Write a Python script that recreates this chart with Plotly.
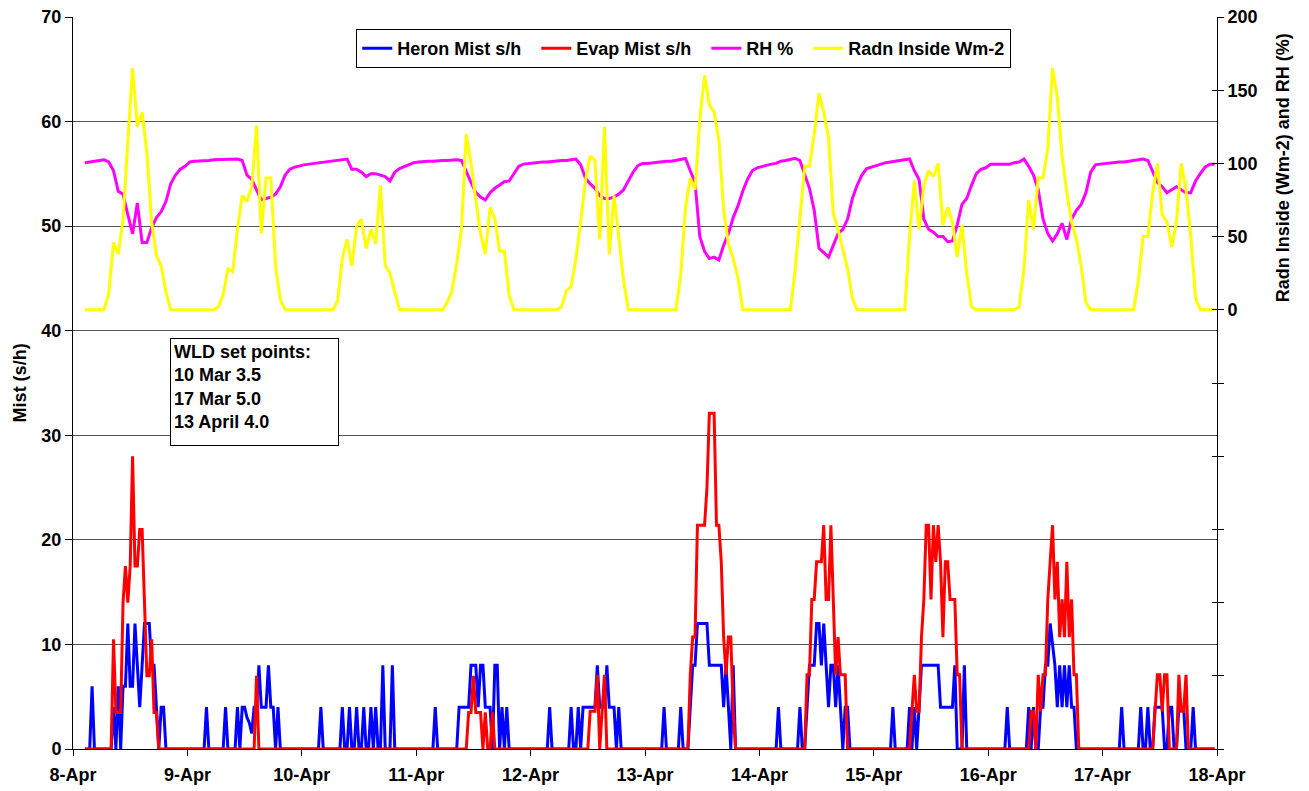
import pandas as pd
import plotly.graph_objects as go

# ---------------- Mist data (30-min intervals, s/h) ----------------
N = None
heron_d0 = [N, N, N, N, N, 0, 0, 0, 6, 0, 0, 0,  0, 0, 0, 0, 0, 4, 0, 6, 0, 6, 6, 12,
            6, 6, 12, 8, 4, 8, 12, 12, 12, 8, 8, 4,  0, 4, 4, 0, 0, 0, 0, 0, 0, 0, 0, 0]
heron_d1 = [0, 0, 0, 0, 0, 0, 0, 0, 4, 0, 0, 0,  0, 0, 0, 0, 4, 0, 0, 0, 0, 4, 0, 4,
            4, 3, 2.5, 1.5, 4, 4, 8, 4, 4, 4, 8, 4,  4, 0, 4, 0, 0, 0, 0, 0, 0, 0, 0, 0]
heron_d2 = [0, 0, 0, 0, 0, 0, 0, 0, 4, 0, 0, 0,  0, 0, 0, 0, 0, 4, 0, 0, 4, 0, 0, 4,
            0, 0, 4, 0, 0, 4, 0, 4, 0, 0, 8, 0,  0, 0, 8, 0, 0, 0, 0, 0, 0, 0, 0, 0]
heron_d3 = [0, 0, 0, 0, 0, 0, 0, 0, 4, 0, 0, 0,  0, 0, 0, 0, 0, 0, 4, 4, 4, 4, 4, 8,
            8, 8, 4, 8, 8, 4, 4, 4, 0, 8, 8, 0,  4, 0, 4, 0, 0, 0, 0, 0, 0, 0, 0, 0]
heron_d4 = [0, 0, 0, 0, 0, 0, 0, 0, 4, 0, 0, 0,  0, 0, 0, 0, 0, 4, 0, 0, 4, 0, 4, 4,
            4, 4, 4, 4, 8, 4, 4, 4, 8, 4, 4, 4,  0, 4, 0, 0, 0, 0, 0, 0, 0, 0, 0, 0]
heron_d5 = [0, 0, 0, 0, 0, 0, 0, 0, 4, 0, 0, 0,  0, 0, 0, 4, 0, 0, 0, 4, 8, 8, 12, 12,
            12, 12, 12, 8, 8, 8, 8, 8, 8, 4, 8, 4,  0, 8, 0, 0, 0, 0, 0, 0, 0, 0, 0, 0]
heron_d6 = [0, 0, 0, 0, 0, 0, 0, 0, 4, 0, 0, 0,  0, 0, 0, 0, 0, 4, 0, 0, 4, 8, 8, 8,
            12, 12, 8, 12, 8, 4, 8, 8, 4, 8, 4, 0,  4, 4, 0, 0, 0, 0, 0, 0, 0, 0, 0, 0]
heron_d7 = [0, 0, 0, 0, 0, 0, 0, 0, 4, 0, 0, 0,  0, 0, 0, 4, 0, 4, 0, 4, 8, 8, 8, 8,
            8, 8, 8, 8, 4, 4, 4, 4, 4, 4, 8, 0,  0, 0, 8, 0, 0, 0, 0, 0, 0, 0, 0, 0]
heron_d8 = [0, 0, 0, 0, 0, 0, 0, 0, 4, 0, 0, 0,  0, 0, 0, 0, 0, 4, 0, 4, 0, 0, 4, 4,
            8, 8, 12, 10, 8, 4, 8, 4, 8, 4, 8, 4,  4, 0, 0, 0, 0, 0, 0, 0, 0, 0, 0, 0]
heron_d9 = [0, 0, 0, 0, 0, 0, 0, 0, 4, 0, 0, 0,  0, 0, 0, 0, 4, 0, 0, 4, 0, 0, 4, 4,
            4, 4, 0, 0, 4, 4, 0, 0, 4, 4, 4, 0,  0, 0, 4, 0, 0, 0, 0, 0, 0, 0, 0, 0]

evap_d0 = [N, N, N, N, N, 0, 0, 0, 0, 0, 0, 0,  0, 0, 0, 0, 0, 10.5, 3.5, 3.5, 3.5, 14, 17.5, 14,
           17.5, 28, 17.5, 17.5, 21, 21, 14, 7, 7, 10.5, 3.5, 3.5,  0, 0, 0, 0, 0, 0, 0, 0, 0, 0, 0, 0]
evap_d1 = [0, 0, 0, 0, 0, 0, 0, 0, 0, 0, 0, 0,  0, 0, 0, 0, 0, 0, 0, 0, 0, 0, 0, 0,
           0, 0, 0, 0, 0, 7, 0, 0, 0, 0, 0, 0,  0, 0, 0, 0, 0, 0, 0, 0, 0, 0, 0, 0]
evap_d2 = [0, 0, 0, 0, 0, 0, 0, 0, 0, 0, 0, 0,  0, 0, 0, 0, 0, 0, 0, 0, 0, 0, 0, 0,
           0, 0, 0, 0, 0, 0, 0, 0, 0, 0, 0, 0,  0, 0, 0, 0, 0, 0, 0, 0, 0, 0, 0, 0]
evap_d3 = [0, 0, 0, 0, 0, 0, 0, 0, 0, 0, 0, 0,  0, 0, 0, 0, 0, 0, 0, 0, 0, 0, 3.5, 3.5,
           7, 3.5, 3.5, 3.5, 0, 3.5, 0, 0, 3.5, 0, 0, 0,  0, 0, 0, 0, 0, 0, 0, 0, 0, 0, 0, 0]
evap_d4 = [0, 0, 0, 0, 0, 0, 0, 0, 0, 0, 0, 0,  0, 0, 0, 0, 0, 0, 0, 0, 0, 0, 0, 0,
           0, 3.6, 3.6, 3.6, 7.1, 0, 3.6, 7.1, 0, 0, 0, 0,  0, 0, 0, 0, 0, 0, 0, 0, 0, 0, 0, 0]
evap_d5 = [0, 0, 0, 0, 0, 0, 0, 0, 0, 0, 0, 0,  0, 0, 0, 0, 0, 0, 0, 7.1, 10.7, 10.7, 21.4, 21.4,
           21.4, 21.4, 25, 32.1, 32.1, 32.1, 21.4, 21.4, 17.9, 10.7, 7.1, 10.7,
           10.7, 3.6, 0, 0, 0, 0, 0, 0, 0, 0, 0, 0]
evap_d6 = [0, 0, 0, 0, 0, 0, 0, 0, 0, 0, 0, 0,  0, 0, 0, 0, 0, 0, 0, 0, 7.1, 7.1, 14.3, 14.3,
           17.9, 17.9, 17.9, 21.4, 14.3, 14.3, 21.4, 14.3, 7.1, 10.7, 7.1, 7.1,
           7.1, 0, 0, 0, 0, 0, 0, 0, 0, 0, 0, 0]
evap_d7 = [0, 0, 0, 0, 0, 0, 0, 0, 0, 0, 0, 0,  0, 0, 0, 0, 3.6, 7.1, 3.6, 3.6, 10.7, 14.3, 21.4, 21.4,
           14.3, 21.4, 17.9, 21.4, 17.9, 10.7, 17.9, 17.9, 14.3, 14.3, 14.3, 7.1,
           7.1, 0, 0, 0, 0, 0, 0, 0, 0, 0, 0, 0]
evap_d8 = [0, 0, 0, 0, 0, 0, 0, 0, 0, 0, 0, 0,  0, 0, 0, 0, 0, 0, 3.6, 3.6, 0, 7.1, 3.6, 7.1,
           7.1, 14.3, 17.9, 21.4, 14.3, 17.9, 10.7, 14.3, 10.7, 17.9, 10.7, 14.3,
           7.1, 7.1, 0, 0, 0, 0, 0, 0, 0, 0, 0, 0]
evap_d9 = [0, 0, 0, 0, 0, 0, 0, 0, 0, 0, 0, 0,  0, 0, 0, 0, 0, 0, 0, 0, 0, 0, 3.6, 7.1,
           7.1, 3.6, 7.1, 7.1, 0, 0, 0, 0, 7.1, 3.6, 3.6, 7.1,  0, 0, 0, 0, 0, 0, 0, 0, 0, 0, 0, 0]

# ---------------- Climate data (hourly from 8-Apr 02:30) ----------------
rh_pct = [100.5, 101, 101.5, 102.5, 102.5, 101, 95, 81, 79, 65,
          52, 73, 46, 46, 56, 63, 67, 74, 86, 92,
          96, 98, 101, 101.5, 101.5, 102, 102, 102.5, 102.5, 103,
          103, 103, 103, 102, 92, 89, 82, 75, 76, 77,
          79, 84, 92, 96, 97.5, 98.5, 99, 99.5, 100, 100.5,
          101, 101.5, 102, 102.5, 103, 103, 96, 96, 94, 91,
          93, 93, 92, 91, 88, 94, 96.5, 98, 99.5, 100.5,
          101, 101.5, 101.5, 101.5, 102, 102, 102, 102.5, 102.5, 102,
          94, 87, 80, 77, 75, 80, 83, 85, 87.5, 88,
          93, 98, 99.5, 100, 100.5, 100.5, 101, 101, 101.5, 101.5,
          102, 102, 102.5, 103, 99, 90, 86, 83, 78, 76,
          76, 77, 79, 82, 88, 94, 98.5, 100, 100, 100.5,
          101, 101, 101.5, 101.5, 102, 103, 103.4, 95, 87, 50,
          40, 35, 36, 34, 44, 52, 63, 71, 81, 89,
          95, 97, 98, 99, 99.5, 100, 101.5, 102, 103, 103.5,
          102, 92, 83, 68, 42, 39, 36, 44, 52, 55,
          62, 76, 85, 92, 96.5, 97.5, 98.5, 100, 100.5, 101,
          101.5, 102, 102.5, 103, 95, 89, 62, 55, 53, 50,
          50, 46.5, 47, 58, 72, 76, 85, 93, 96, 97,
          99.5, 99.5, 99.5, 99, 99.5, 100.5, 101, 103, 98, 92,
          82, 62, 52, 47, 52, 59, 48, 62, 68, 72,
          80, 94, 99, 99.5, 100, 100, 100.5, 101, 101, 101.5,
          102, 102.5, 103, 102, 95, 87, 84, 80, 82, 84,
          82, 80, 80, 88, 93, 97.5, 99.5, 99.5]

radn_wm2 = [0, 0, 0, 0, 0, 11, 46, 38, 62, 115,
            165, 125, 135, 107, 60, 37, 30, 12, 0, 0,
            0, 0, 0, 0, 0, 0, 0, 0, 2, 10,
            28, 26, 55, 78, 74, 84, 126, 52, 90, 90,
            30, 7, 0, 0, 0, 0, 0, 0, 0, 0,
            0, 0, 0, 6, 35, 48, 30, 57, 62, 42,
            55, 45, 85, 30, 25, 12, 0, 0, 0, 0,
            0, 0, 0, 0, 0, 0, 5, 13, 32, 55,
            120, 100, 75, 52, 38, 70, 62, 40, 40, 10,
            0, 0, 0, 0, 0, 0, 0, 0, 0, 0,
            2, 13, 16, 35, 60, 88, 105, 102, 48, 125,
            38, 78, 50, 20, 0, 0, 0, 0, 0, 0,
            0, 0, 0, 0, 0, 24, 70, 90, 82, 130,
            160, 140, 135, 116, 68, 45, 35, 22, 0, 0,
            0, 0, 0, 0, 0, 0, 0, 0, 0, 27,
            60, 98, 98, 120, 148, 135, 118, 66, 55, 42,
            28, 8, 0, 0, 0, 0, 0, 0, 0, 0,
            0, 0, 0, 50, 88, 55, 85, 95, 91, 100,
            58, 70, 60, 36, 58, 25, 2, 0, 0, 0,
            0, 0, 0, 0, 0, 0, 2, 28, 75, 55,
            90, 90, 110, 165, 145, 105, 80, 60, 48, 30,
            5, 0, 0, 0, 0, 0, 0, 0, 0, 0,
            0, 20, 50, 50, 80, 100, 65, 60, 43, 60,
            100, 82, 50, 8, 0, 0, 0, 0]

right_tickvals = [-300, -250, -200, -150, -100, -50, 0, 50, 100, 150, 200]
right_ticktext = ["", "", "", "", "", "", "0", "50", "100", "150", "200"]

heron = (heron_d0 + heron_d1 + heron_d2 + heron_d3 + heron_d4 +
         heron_d5 + heron_d6 + heron_d7 + heron_d8 + heron_d9)
evap = (evap_d0 + evap_d1 + evap_d2 + evap_d3 + evap_d4 +
        evap_d5 + evap_d6 + evap_d7 + evap_d8 + evap_d9)

mist_time = pd.date_range("2008-04-08 00:00", periods=len(heron), freq="30min")
clim_time = pd.date_range("2008-04-08 02:30", periods=len(rh_pct), freq="60min")

FONT = "Liberation Sans, Arial, Helvetica, sans-serif"
bold18 = dict(family=FONT, size=18, color="black", weight="bold")
GAP = "\u00a0\u00a0"

fig = go.Figure()
fig.add_trace(go.Scatter(x=mist_time, y=heron, name="Heron Mist s/h" + GAP, mode="lines",
                         line=dict(color="#0000FF", width=3), yaxis="y"))
fig.add_trace(go.Scatter(x=mist_time, y=evap, name="Evap Mist s/h" + GAP, mode="lines",
                         line=dict(color="#FF0000", width=3), yaxis="y"))
fig.add_trace(go.Scatter(x=clim_time, y=rh_pct, name="RH %" + GAP, mode="lines",
                         line=dict(color="#FF00FF", width=3), yaxis="y2"))
fig.add_trace(go.Scatter(x=clim_time, y=radn_wm2, name="Radn Inside Wm-2", mode="lines",
                         line=dict(color="#FFFF00", width=3), yaxis="y2"))
fig.add_trace(go.Scatter(x=[clim_time[0]], y=[None], showlegend=False, hoverinfo="skip",
                         yaxis="y3", mode="lines"))

fig.update_layout(
    width=1309, height=791,
    margin=dict(l=73, r=92, t=17, b=42, autoexpand=False),
    paper_bgcolor="white", plot_bgcolor="white",
    font=bold18,
    showlegend=True,
    legend=dict(orientation="h", x=0.2476, y=0.9835, xanchor="left", yanchor="top",
                bgcolor="white", bordercolor="black", borderwidth=1,
                font=bold18, itemwidth=30, tracegroupgap=0),
    xaxis=dict(type="date", range=["2008-04-08", "2008-04-18"],
               tick0="2008-04-08", dtick=86400000, tickformat="%-d-%b",
               ticks="outside", ticklen=6, tickcolor="black", ticklabelstandoff=3,
               showline=True, linecolor="black", linewidth=1, automargin=False,
               showgrid=False, zeroline=False, tickfont=bold18),
    yaxis=dict(range=[0, 70], dtick=10, tick0=0,
               ticks="outside", ticklen=7, tickcolor="black",
               showline=True, linecolor="black", linewidth=1, automargin=False,
               showgrid=True, gridcolor="#555555", gridwidth=1,
               zeroline=False, tickfont=bold18),
    yaxis2=dict(overlaying="y", side="right", anchor="x", range=[-300, 200],
                tickmode="array", tickvals=right_tickvals, ticktext=right_ticktext,
                ticks="outside", ticklen=6, tickcolor="black", automargin=False,
                showline=True, linecolor="black", linewidth=1,
                showgrid=False, zeroline=False, tickfont=bold18),
    yaxis3=dict(overlaying="y", side="right", anchor="x", range=[-300, 200],
                tickmode="array", tickvals=right_tickvals, automargin=False,
                ticks="inside", ticklen=5, tickcolor="black",
                showticklabels=False, showline=False, showgrid=False, zeroline=False),
)

fig.add_annotation(text="Mist (s/h)", textangle=-90, xref="paper", yref="paper",
                   x=-0.046, y=0.5, xanchor="center", yanchor="middle",
                   showarrow=False, font=bold18)
fig.add_annotation(text="Radn Inside (Wm-2) and RH (%)", textangle=-90,
                   xref="paper", yref="paper", x=1.058, y=0.7937,
                   xanchor="center", yanchor="middle", showarrow=False, font=bold18)
fig.add_annotation(text="WLD set points:<br>10 Mar 3.5<br>17 Mar 5.0<br>13 April 4.0",
                   xref="paper", yref="paper", x=0.085, y=0.5615,
                   xanchor="left", yanchor="top", align="left", valign="top",
                   width=161, height=100, borderpad=3,
                   bordercolor="black", borderwidth=1, bgcolor="white",
                   showarrow=False, font=bold18)

fig.write_html("out.html")
